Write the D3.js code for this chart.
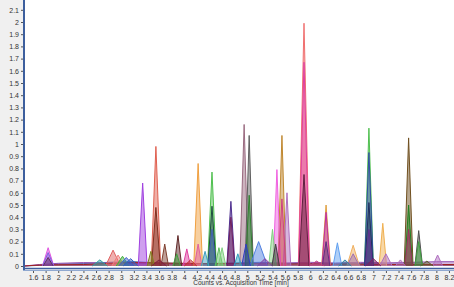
<!DOCTYPE html>
<html>
<head>
<meta charset="utf-8">
<script src="https://cdn.jsdelivr.net/npm/d3@7"></script>
<style>
  body { margin: 0; background: #f0f0f0; }
  svg { display: block; font-family: "Liberation Sans Narrow", "Liberation Sans", Arial, sans-serif; }
</style>
</head>
<body>
<svg id="chart" width="454" height="287"></svg>
<script>
// Peak list: retention time (min), apex height, half base width (min), colour
let peakTimes   = [1.84, 1.84, 1.84, 2.66, 2.87, 2.95, 3.02, 3.08, 3.34, 3.55, 3.55, 3.47, 3.69, 3.90, 3.88,
                   4.04, 4.22, 4.22, 4.33, 4.44, 4.44, 4.44, 4.55, 4.60, 4.74, 4.74, 4.95, 5.03, 5.03, 4.98,
                   4.85, 5.18, 5.40, 5.47, 5.55, 5.55, 5.63, 5.45, 5.90, 5.90, 5.90, 6.25, 6.25, 6.25, 6.43,
                   6.68, 6.68, 6.93, 6.93, 6.93, 6.93, 7.15, 7.20, 7.43, 7.56, 7.56, 7.56, 7.72, 7.72, 8.02,
                   3.15, 3.60, 4.10, 5.28, 6.10, 6.55, 7.00, 7.85];
let peakHeights = [0.15, 0.11, 0.07, 0.05, 0.13, 0.09, 0.08, 0.07, 0.68, 0.98, 0.48, 0.12, 0.18, 0.25, 0.10,
                   0.14, 0.84, 0.18, 0.12, 0.77, 0.49, 0.30, 0.15, 0.15, 0.53, 0.40, 1.16, 1.07, 0.58, 0.18,
                   0.10, 0.20, 0.30, 0.79, 1.07, 0.55, 0.60, 0.18, 1.99, 1.67, 0.75, 0.50, 0.44, 0.20, 0.19,
                   0.17, 0.10, 1.13, 0.93, 0.52, 0.30, 0.35, 0.10, 0.05, 1.05, 0.50, 0.30, 0.29, 0.20, 0.09,
                   0.06, 0.05, 0.05, 0.06, 0.04, 0.05, 0.06, 0.04];
let peakWidths  = [0.09, 0.09, 0.08, 0.12, 0.12, 0.10, 0.10, 0.12, 0.07, 0.075, 0.07, 0.06, 0.06, 0.06, 0.06,
                   0.06, 0.07, 0.06, 0.06, 0.07, 0.065, 0.06, 0.06, 0.06, 0.065, 0.06, 0.07, 0.065, 0.06, 0.07,
                   0.06, 0.14, 0.06, 0.06, 0.065, 0.06, 0.06, 0.06, 0.09, 0.085, 0.08, 0.07, 0.065, 0.06, 0.07,
                   0.10, 0.10, 0.07, 0.07, 0.065, 0.06, 0.06, 0.10, 0.08, 0.07, 0.06, 0.06, 0.06, 0.06, 0.08,
                   0.12, 0.12, 0.10, 0.12, 0.12, 0.10, 0.12, 0.10];
let peakColors  = ["#e055e0", "#8060e0", "#603060", "#30a0a0", "#e06060", "#f08080", "#40b040", "#4060d0",
                   "#a040e0", "#e06050", "#803020", "#808020", "#804030", "#602828", "#40a040", "#e040a0",
                   "#f0a040", "#e060a0", "#40a0c0", "#50c050", "#205040", "#4060b0", "#60c060", "#80d080",
                   "#503090", "#702060", "#9a6a80", "#606060", "#308030", "#3040c0", "#30a0c0", "#5080e0",
                   "#80d080", "#f060e0", "#c08830", "#d04080", "#b070c0", "#404040", "#f07070", "#e040a0",
                   "#602040", "#e0a040", "#c030a0", "#603080", "#60a0f0", "#f0b060", "#a070b0", "#50c050",
                   "#3050a0", "#203060", "#603090", "#f0b050", "#b070c0", "#b070c0", "#705020", "#208020",
                   "#a03060", "#505050", "#40a040", "#b070c0",
                   "#3060c0", "#802040", "#c03030", "#8040a0", "#c04080", "#3080a0", "#802060", "#606030"];

// Baseline traces
let baseTimes  = [1.46, 1.7, 2.0, 2.4, 2.8, 3.2, 3.6, 4.0, 4.4, 4.8, 5.2, 5.6, 6.0, 6.4, 6.8, 7.2, 7.6, 8.0, 8.28];
let baseRed    = [0.0, 0.008, 0.01, 0.012, 0.02, 0.03, 0.025, 0.022, 0.02, 0.02, 0.018, 0.016, 0.018, 0.015, 0.015, 0.012, 0.014, 0.012, 0.012];
let basePurple = [0.0, 0.012, 0.022, 0.028, 0.025, 0.02, 0.018, 0.015, 0.015, 0.02, 0.025, 0.025, 0.03, 0.025, 0.03, 0.025, 0.03, 0.035, 0.035];
let baseBlue   = [0.0, 0.005, 0.015, 0.02, 0.03, 0.035, 0.025, 0.02, 0.02, 0.025, 0.03, 0.02, 0.02, 0.02, 0.02, 0.015, 0.015, 0.01, 0.01];

let yTicks = d3.range(0, 2.15, 0.1).map(d => +d.toFixed(1));
let xTicks = d3.range(1.6, 8.25, 0.2).map(d => +d.toFixed(1));

let width = 454, height = 287;
let svg = d3.select('#chart');

let x = d3.scaleLinear().domain([1.457, 8.28]).range([24, 454]);
let y = d3.scaleLinear().domain([0, 1]).range([266, 144]);

// white plot area
svg.append('rect')
    .attr('x', 24).attr('y', 0)
    .attr('width', width - 24).attr('height', 269)
    .attr('fill', '#ffffff');

let plot = svg.append('g');

let line = d3.line().x(d => x(d[0])).y(d => y(d[1]));

// baseline traces
[[baseBlue, '#4070b0'], [basePurple, '#9050b0'], [baseRed, '#a02020']].forEach(([vals, col]) => {
    let pts = baseTimes.map((t, i) => [t, vals[i]]);
    plot.append('path')
        .attr('d', line(pts.concat([[8.28, 0], [1.46, 0]])))
        .attr('fill', col).attr('fill-opacity', 0.4)
        .attr('stroke', 'none');
    plot.append('path')
        .attr('d', line(pts))
        .attr('fill', 'none').attr('stroke', col).attr('stroke-width', 1);
});

// peaks, tallest first so smaller ones show on top
let peaks = peakTimes.map((t, i) => ({t: t, h: peakHeights[i], w: peakWidths[i], c: peakColors[i]}))
    .sort((a, b) => b.h - a.h);

plot.selectAll('path.peak')
    .data(peaks)
    .join('path')
    .attr('class', 'peak')
    .attr('d', d => line([[d.t - d.w, 0], [d.t, d.h], [d.t + d.w, 0]]))
    .attr('fill', d => d.c)
    .attr('fill-opacity', 0.5)
    .attr('stroke', d => d.c)
    .attr('stroke-width', 1)
    .attr('stroke-linejoin', 'round');

// gray margin below the plot
svg.append('rect')
    .attr('x', 0).attr('y', 269)
    .attr('width', width).attr('height', height - 269)
    .attr('fill', '#f0f0f0');

// y axis
let yAxis = svg.append('g')
    .attr('transform', 'translate(24,0)')
    .call(d3.axisLeft(y).tickValues(yTicks).tickSize(3).tickFormat(d3.format('~g')));
yAxis.select('.domain').remove();
yAxis.selectAll('line').attr('stroke', '#555');
yAxis.selectAll('text').attr('font-size', 7).attr('fill', '#333').attr('dx', '1');

svg.append('line')
    .attr('x1', 24).attr('x2', 24).attr('y1', 0).attr('y2', 270)
    .attr('stroke', '#3d5f9e').attr('stroke-width', 2);

// x axis (double blue rule)
svg.append('line')
    .attr('x1', 23).attr('x2', width).attr('y1', 268.5).attr('y2', 268.5)
    .attr('stroke', '#3d5f9e').attr('stroke-width', 1.5);
svg.append('line')
    .attr('x1', 23).attr('x2', width).attr('y1', 270.5).attr('y2', 270.5)
    .attr('stroke', '#8fa8d0').attr('stroke-width', 1);

let xAxis = svg.append('g')
    .attr('transform', 'translate(0,271)')
    .call(d3.axisBottom(x).tickValues(xTicks).tickSize(2).tickFormat(d3.format('~g')));
xAxis.select('.domain').remove();
xAxis.selectAll('line').attr('stroke', '#555');
xAxis.selectAll('text').attr('font-size', 7).attr('fill', '#333').attr('dy', '0.5em');

svg.append('text')
    .attr('x', 241).attr('y', 285)
    .attr('text-anchor', 'middle')
    .attr('font-size', 6.5)
    .attr('fill', '#333')
    .text('Counts vs. Acquisition Time [min]');
</script>
</body>
</html>
